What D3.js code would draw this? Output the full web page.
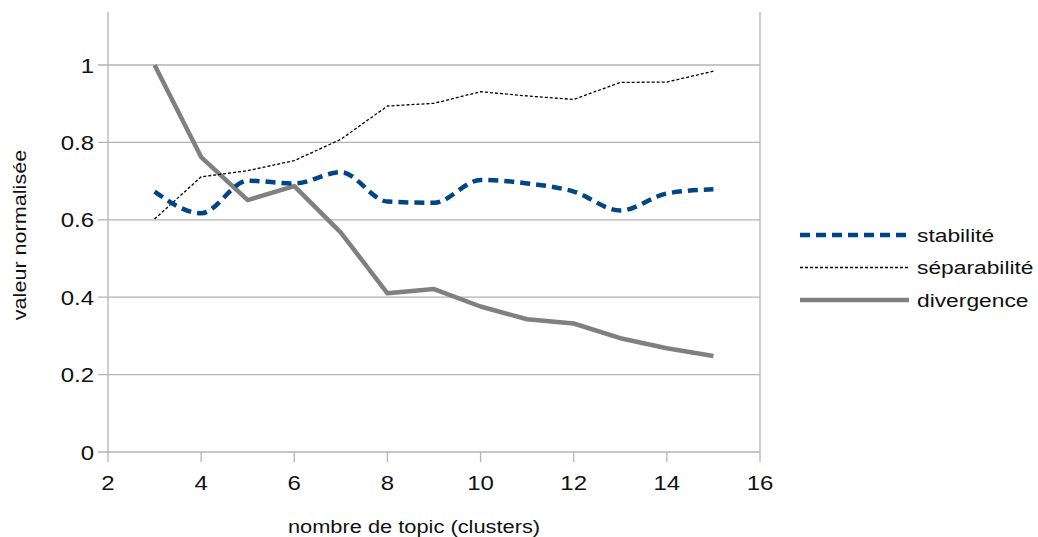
<!DOCTYPE html>
<html><head><meta charset="utf-8">
<script src="https://cdn.jsdelivr.net/npm/d3@7"></script>
<style>
html,body{margin:0;padding:0;background:#fff;}
text{font-family:"Liberation Sans",Arial,sans-serif;fill:#111;}
</style></head>
<body><svg id="chart" width="1038" height="537"></svg>
<script>
const topics = [3,4,5,6,7,8,9,10,11,12,13,14,15];
const stabilite = [0.673,0.617,0.701,0.694,0.723,0.647,0.644,0.703,0.694,0.673,0.624,0.668,0.679];
const separabilite = [0.602,0.711,0.727,0.753,0.808,0.894,0.901,0.931,0.920,0.911,0.955,0.956,0.984];
const divergence = [1.0,0.762,0.651,0.687,0.567,0.41,0.421,0.376,0.343,0.332,0.294,0.268,0.248];
const xTicks = [2,4,6,8,10,12,14,16];
const yTicks = [0,0.2,0.4,0.6,0.8,1];
const seriesNames = ["stabilité","séparabilité","divergence"];

const svg = d3.select("#chart");
const L=108, R=760, T=12, B=452;
const x = d3.scaleLinear().domain([2,16]).range([L,R]);
const y = d3.scaleLinear().domain([0,1]).range([B,65]);
const grid="#b3b3b3";
const SX=1.2;

function label(g, tx, ty, txt, fs, anchor, rot, sx){
  g.append("text")
    .attr("transform",`translate(${tx},${ty})`+(rot?` rotate(${rot})`:"")+` scale(${sx||SX},1)`)
    .attr("text-anchor",anchor).attr("font-size",fs).text(txt);
}

svg.append("g").selectAll("line").data(yTicks).join("line")
  .attr("x1",L-10).attr("x2",R).attr("y1",d=>y(d)).attr("y2",d=>y(d))
  .attr("stroke",grid).attr("stroke-width",1.3);
svg.append("line").attr("x1",L).attr("x2",L).attr("y1",T).attr("y2",B).attr("stroke",grid).attr("stroke-width",1.3);
svg.append("line").attr("x1",R).attr("x2",R).attr("y1",T).attr("y2",B).attr("stroke",grid).attr("stroke-width",1.3);
svg.append("g").selectAll("line").data(xTicks).join("line")
  .attr("x1",d=>x(d)).attr("x2",d=>x(d)).attr("y1",B).attr("y2",B+10)
  .attr("stroke",grid).attr("stroke-width",1.3);

const tg = svg.append("g");
xTicks.forEach(d=>label(tg, x(d), 490, d, 20, "middle"));
yTicks.forEach(d=>label(tg, 94, y(d)+7.5, d, 20, "end"));

label(svg, 414, 533, "nombre de topic (clusters)", 18.5, "middle", 0, 1.18);
label(svg, 25.5, 235, "valeur normalisée", 18, "middle", -90);

const styles = [
  {data:stabilite, stroke:"#004586", w:4.5, dash:"10,6", curve:d3.curveMonotoneX},
  {data:separabilite, stroke:"#000", w:1.3, dash:"3,2", curve:d3.curveLinear},
  {data:divergence, stroke:"#808080", w:4.5, dash:null, curve:d3.curveLinear}
];
[2,1,0].forEach(i=>{
  const s=styles[i];
  const line=d3.line().x((d,j)=>x(topics[j])).y(d=>y(d)).curve(s.curve);
  svg.append("path").attr("d",line(s.data)).attr("fill","none")
    .attr("stroke",s.stroke).attr("stroke-width",s.w)
    .attr("stroke-dasharray",s.dash).attr("stroke-linejoin","round");
});

const lg = svg.append("g");
seriesNames.forEach((n,i)=>{
  const s=styles[i];
  const yy=235+i*32.5;
  lg.append("line").attr("x1",800).attr("x2",909).attr("y1",yy).attr("y2",yy)
    .attr("stroke",s.stroke).attr("stroke-width",s.w).attr("stroke-dasharray",s.dash);
  label(lg, 917, yy+6.5, n, 19, "start");
});
</script></body></html>
